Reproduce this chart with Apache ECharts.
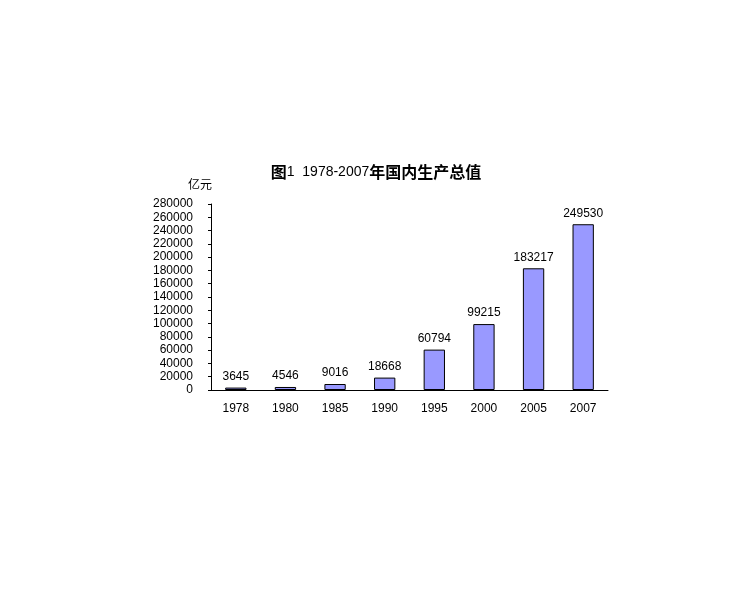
<!DOCTYPE html>
<html>
<head>
<meta charset="utf-8">
<script src="https://cdn.jsdelivr.net/npm/echarts@6/dist/echarts.min.js"></script>
<style>
    html, body { margin: 0; padding: 0; background: #fff; }
    #gdp { width: 747px; height: 600px; }
</style>
</head>
<body>
<div id="gdp"></div>
<script>
    // 年份与国内生产总值（亿元）
    var years = ['1978', '1980', '1985', '1990', '1995', '2000', '2005', '2007'];
    var gdpValues = [3645, 4546, 9016, 18668, 60794, 99215, 183217, 249530];
    var yMax = 280000;
    var yStep = 20000;

    var txtFont = '"Liberation Sans", "Noto Sans CJK SC", sans-serif';
    var cjkFont = '"Noto Sans CJK SC", sans-serif';

    var chart = echarts.init(document.getElementById('gdp'));
    var option = {
        backgroundColor: '#fff',
        animation: false,
        title: {
            // 标题：汉字加粗，数字常规
            text: '{c|图}{n|1  1978-2007}{c|年国内生产总值}',
            left: 371,
            top: 159,
            textAlign: 'center',
            textStyle: {
                rich: {
                    c: { fontSize: 16, fontWeight: 'bold', color: '#000', fontFamily: cjkFont },
                    n: { fontSize: 14, fontWeight: 'normal', color: '#000', fontFamily: txtFont }
                }
            }
        },
        grid: {
            left: 211,
            right: 139,
            top: 204,
            bottom: 210
        },
        xAxis: {
            type: 'category',
            data: years,
            axisLine: { lineStyle: { color: '#000', width: 1 } },
            axisTick: { length: 3, lineStyle: { color: '#000' } },
            axisLabel: {
                margin: 13,
                fontSize: 12,
                color: '#000',
                fontFamily: txtFont
            }
        },
        yAxis: {
            type: 'value',
            min: 0,
            max: yMax,
            interval: yStep,
            name: '亿元',
            nameLocation: 'end',
            nameGap: 14,
            nameTextStyle: {
                fontSize: 12,
                color: '#000',
                align: 'center',
                padding: [0, 22, 0, 0],
                fontFamily: cjkFont
            },
            axisLine: { show: true, lineStyle: { color: '#000', width: 1 } },
            axisTick: { show: true, length: 3, lineStyle: { color: '#000' } },
            splitLine: { show: false },
            axisLabel: {
                margin: 18,
                fontSize: 12,
                color: '#000',
                fontFamily: txtFont,
                formatter: function (v) { return String(v); }
            }
        },
        series: [
            {
                name: '国内生产总值',
                type: 'bar',
                data: gdpValues,
                barWidth: '43%',
                itemStyle: {
                    color: '#9999ff',
                    borderColor: '#000',
                    borderWidth: 1
                },
                label: {
                    show: true,
                    position: 'top',
                    distance: 5,
                    fontSize: 12,
                    color: '#000',
                    fontFamily: txtFont
                }
            }
        ]
    };

    chart.setOption(option);
</script>
</body>
</html>
